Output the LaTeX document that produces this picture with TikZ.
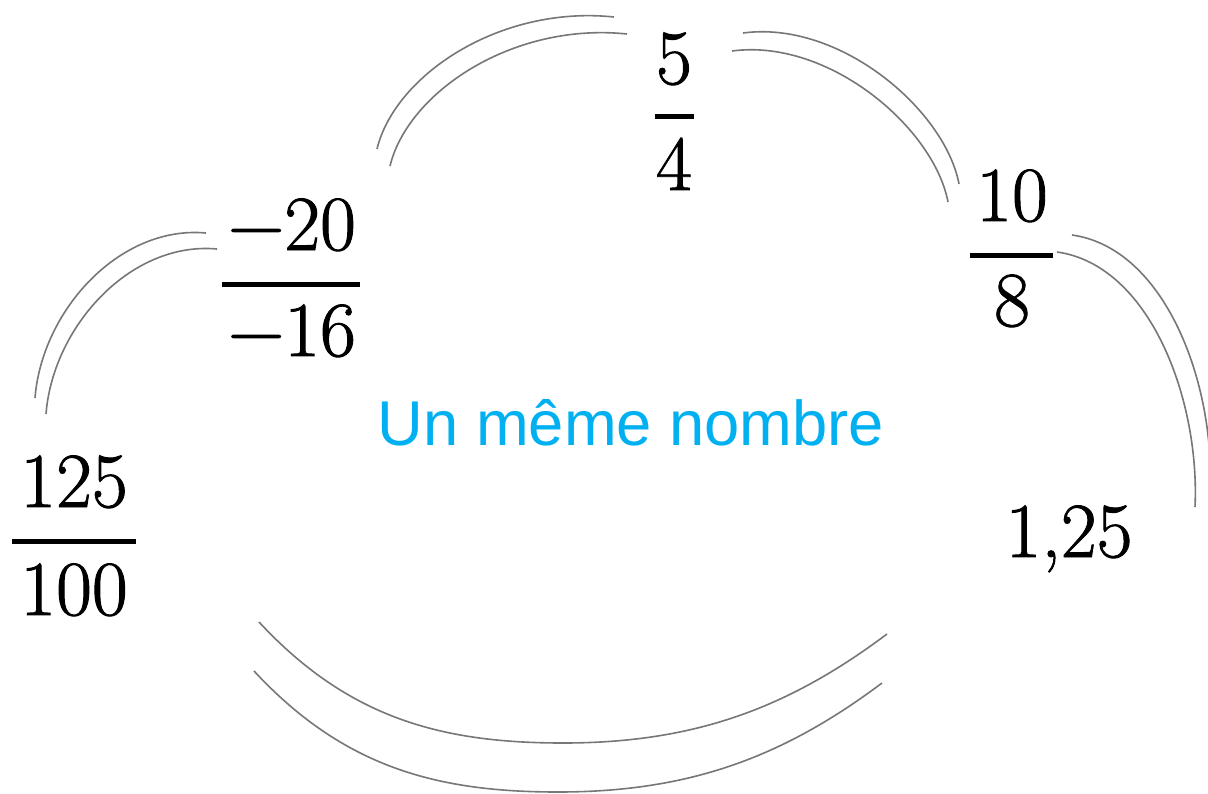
\documentclass[tikz,border=0pt]{standalone}
\usepackage{fontspec}
\newfontfamily\sansf{Liberation Sans}
\newfontfamily\numf[FakeBold=1.2]{Latin Modern Roman}
\definecolor{arcgray}{HTML}{777777}
\definecolor{cyantext}{HTML}{00B0F0}
\begin{document}
\begin{tikzpicture}[x=1pt,y=-1pt,
  arcline/.style={draw=arcgray, line width=1.6pt},
  num/.style={anchor=base, inner sep=0pt, font=\numf\fontsize{78}{90}\selectfont},
  fracbar/.style={draw=black, line width=5pt},
  title/.style={anchor=base, inner sep=0pt, text=cyantext, font=\sansf\fontsize{63.3}{72}\selectfont}]
\clip (0,0) rectangle (1208,793);
\fill[white] (0,0) rectangle (1208,793);

% fractions
\node[num] (n5) at (674,84) {5};
\node[num] (d4) at (674,190) {4};
\coordinate (b5l) at (655,116); \coordinate (b5r) at (694,116);
\draw[fracbar] (b5l) -- (b5r);

\node[num] (n10) at (1012,221) {10};
\node[num] (d8) at (1012,326) {8};
\coordinate (b10l) at (970,255); \coordinate (b10r) at (1053,255);
\draw[fracbar] (b10l) -- (b10r);

\node[num] (n20) at (292,250) {−20};
\node[num] (d16) at (292,356) {−16};
\coordinate (b20l) at (222,284); \coordinate (b20r) at (360,284);
\draw[fracbar] (b20l) -- (b20r);

\node[num] (n125) at (74,507) {125};
\node[num] (d100) at (74,615) {100};
\coordinate (b125l) at (12,541); \coordinate (b125r) at (136,541);
\draw[fracbar] (b125l) -- (b125r);

\node[num] (dec) at (1069,557) {1,25};

\node[title] (t) at (631,445) {Un même nombre};

% left double arc
\foreach \s in {(0,0),(11,16)}{
  \draw[arcline, shift={\s}] (35,398) .. controls (42,310) and (120,225) .. (206,233);
}
% top-left double arc
\foreach \s in {(0,0),(13,17)}{
  \draw[arcline, shift={\s}] (377,149) .. controls (395,75) and (500,5) .. (614,17);
}
% top-right double arc
\foreach \s in {(0,0),(-11,18)}{
  \draw[arcline, shift={\s}] (743,33) .. controls (840,20) and (945,110) .. (959,184);
}
% right double arc
\foreach \s in {(0,0),(15,-17)}{
  \draw[arcline, shift={\s}] (1057,252) .. controls (1150,265) and (1200,400) .. (1195,507);
}
% bottom double arc
\foreach \s in {(0,0),(-5,49)}{
  \draw[arcline, shift={\s}] (259,622) .. controls (349,719) and (443,743) .. (563,743)
     .. controls (693,743) and (787,709) .. (887,634);
}
\end{tikzpicture}
\end{document}
